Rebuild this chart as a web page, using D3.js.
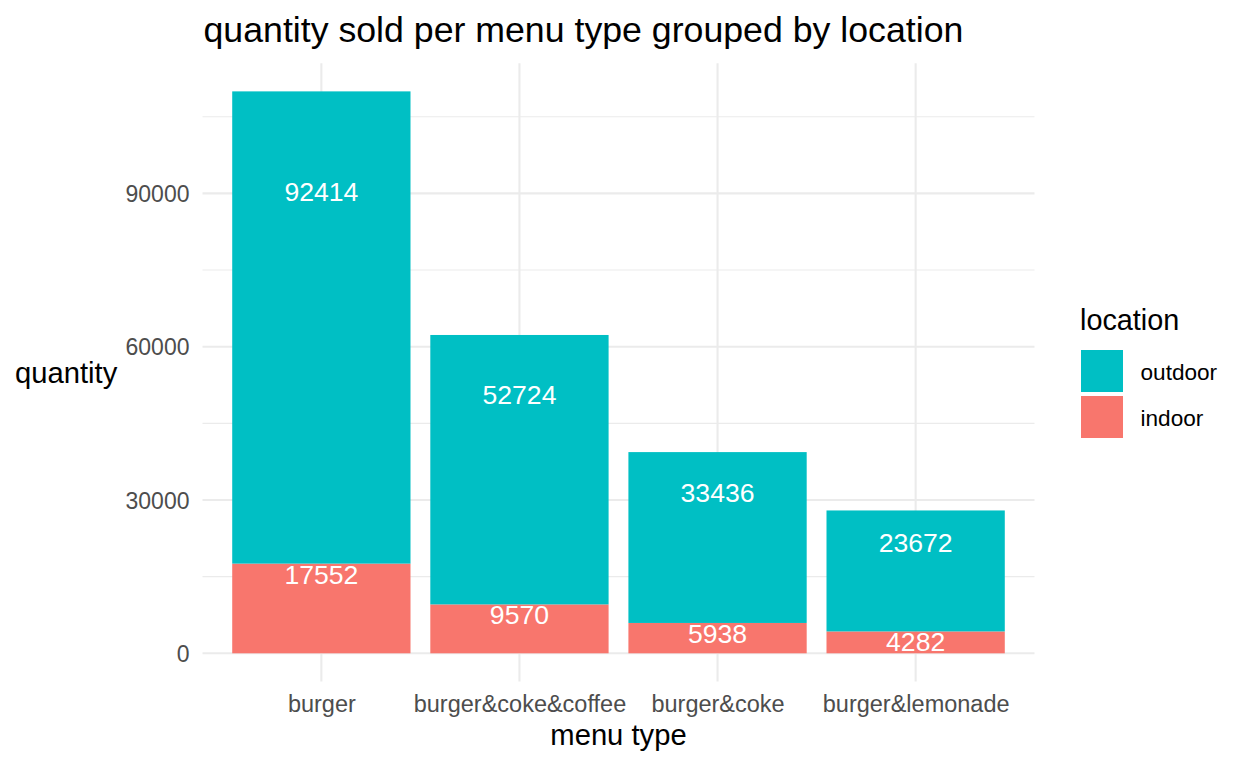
<!DOCTYPE html>
<html>
<head>
<meta charset="utf-8">
<script src="https://cdn.jsdelivr.net/npm/d3@7"></script>
<style>
  html, body { margin: 0; padding: 0; background: #ffffff; }
  svg { display: block; font-family: "Liberation Sans", Arial, sans-serif; }
</style>
</head>
<body>
<svg id="chart" width="1248" height="768"></svg>
<script>
// ---- data ----
const categories = ["burger", "burger&coke&coffee", "burger&coke", "burger&lemonade"];
const indoor = [17552, 9570, 5938, 4282];
const outdoor = [92414, 52724, 33436, 23672];
const yTicks = [0, 30000, 60000, 90000];
const yMinorTicks = [15000, 45000, 75000, 105000];
const legendKeys = ["outdoor", "indoor"];
const legendColors = ["#00BFC4", "#F8766D"];
const titleText = "quantity sold per menu type grouped by location";

// ---- layout ----
const W = 1248, H = 768;
const panel = { left: 202.5, right: 1034.5 };
const svg = d3.select("#chart");

const rows = categories.map((c, i) => ({ cat: c, indoor: indoor[i], outdoor: outdoor[i] }));
const stacked = d3.stack().keys(["indoor", "outdoor"])(rows);
const maxTotal = d3.max(rows, d => d.indoor + d.outdoor);
const pad = maxTotal * 0.05;

const y = d3.scaleLinear().domain([0, 30000]).range([653.3, 500]);
const yDomain = [-pad, maxTotal + pad];
const panelTop = y(yDomain[1]);
const panelBottom = y(yDomain[0]);

// discrete scale with 0.6 expansion on each side
const unit = (panel.right - panel.left) / (categories.length - 1 + 1.2);
const xPos = d3.scalePoint().domain(categories)
  .range([panel.left + 0.6 * unit, panel.right - 0.6 * unit]);
const barW = 0.9 * unit;

const color = d3.scaleOrdinal().domain(["outdoor", "indoor"]).range(legendColors);

// ---- grid ----
const grid = svg.append("g");
grid.selectAll("line.minor").data(yMinorTicks).join("line")
  .attr("x1", panel.left).attr("x2", panel.right)
  .attr("y1", d => y(d)).attr("y2", d => y(d))
  .attr("stroke", "#EBEBEB").attr("stroke-width", 1.1);
grid.selectAll("line.majorY").data(yTicks).join("line")
  .attr("x1", panel.left).attr("x2", panel.right)
  .attr("y1", d => y(d)).attr("y2", d => y(d))
  .attr("stroke", "#EBEBEB").attr("stroke-width", 2.1);
grid.selectAll("line.majorX").data(categories).join("line")
  .attr("x1", d => xPos(d)).attr("x2", d => xPos(d))
  .attr("y1", panelTop).attr("y2", panelBottom)
  .attr("stroke", "#EBEBEB").attr("stroke-width", 2.1);

// ---- bars ----
svg.append("g").selectAll("g").data(stacked).join("g")
  .attr("fill", s => color(s.key))
  .selectAll("rect").data(s => s).join("rect")
  .attr("x", d => xPos(d.data.cat) - barW / 2)
  .attr("width", barW)
  .attr("y", d => y(d[1]))
  .attr("height", d => y(d[0]) - y(d[1]));

// ---- value labels (placed at raw value, vjust ~1.5) ----
const labelG = svg.append("g").attr("fill", "#ffffff").attr("font-size", 26.6).attr("text-anchor", "middle");
["outdoor", "indoor"].forEach(k => {
  labelG.selectAll("text." + k).data(rows).join("text")
    .attr("class", k)
    .attr("x", d => xPos(d.cat))
    .attr("y", d => y(d[k]) + 20)
    .text(d => d[k]);
});

// ---- axes (text only, theme_minimal) ----
const yAxis = d3.axisLeft(y).tickValues(yTicks).tickSize(0).tickPadding(0).tickFormat(d3.format("d"));
const yg = svg.append("g").attr("transform", "translate(189.5,0)").call(yAxis);
yg.select(".domain").remove();
yg.selectAll("text").attr("font-size", 23).attr("fill", "#4D4D4D")
  .attr("font-family", "Liberation Sans, Arial, sans-serif").attr("dy", "0.35em").attr("x", 0);

const xAxis = d3.axisBottom(xPos).tickSize(0).tickPadding(0);
const xg = svg.append("g").attr("transform", "translate(0,0)").call(xAxis);
xg.select(".domain").remove();
xg.selectAll("text").attr("font-size", 23.5).attr("fill", "#4D4D4D")
  .attr("font-family", "Liberation Sans, Arial, sans-serif").attr("dy", null).attr("y", 711.5);

// axis titles
svg.append("text").attr("x", (panel.left + panel.right) / 2).attr("y", 745)
  .attr("text-anchor", "middle").attr("font-size", 29.2).attr("fill", "#000").text("menu type");
svg.append("text").attr("x", 15).attr("y", 382.5)
  .attr("font-size", 29.2).attr("fill", "#000").text("quantity");

// title
svg.append("text").attr("x", 203.5).attr("y", 41.5)
  .attr("font-size", 35.7).attr("fill", "#000").text(titleText);

// ---- legend ----
const lg = svg.append("g");
lg.append("text").attr("x", 1080).attr("y", 329.5).attr("font-size", 28.8).attr("fill", "#000").text("location");
const keyRows = legendKeys.map((k, i) => ({ k, i }));
lg.selectAll("rect").data(keyRows).join("rect")
  .attr("x", 1081).attr("width", 42)
  .attr("y", d => 350 + d.i * 46).attr("height", 42)
  .attr("fill", d => color(d.k));
lg.selectAll("text.lab").data(keyRows).join("text").attr("class", "lab")
  .attr("x", 1140.5).attr("y", d => 379.5 + d.i * 46)
  .attr("font-size", 22.6).attr("fill", "#000").text(d => d.k);
</script>
</body>
</html>
